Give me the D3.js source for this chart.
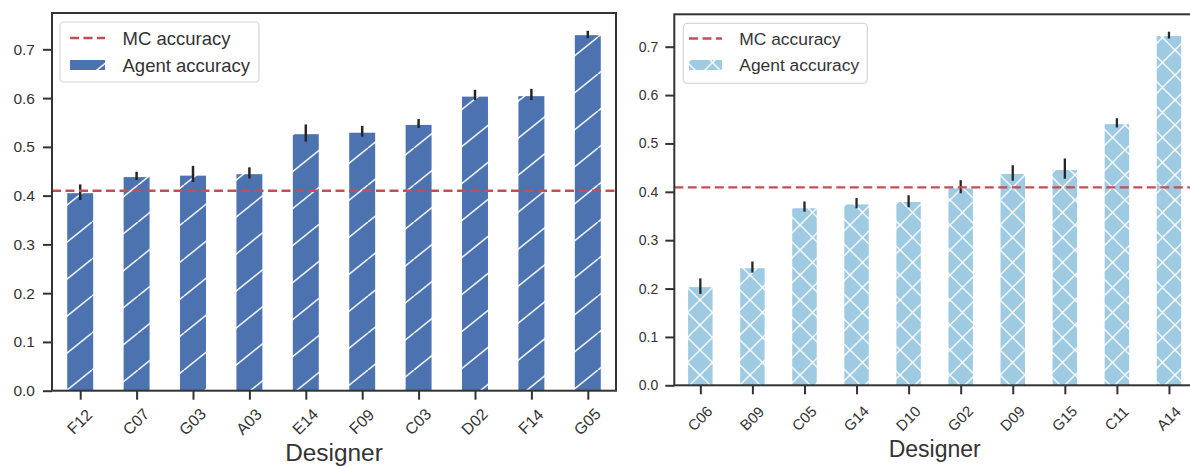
<!DOCTYPE html>
<html><head><meta charset="utf-8">
<script src="https://cdn.jsdelivr.net/npm/d3@7"></script>
<style>body{margin:0;background:#fff}svg{display:block}</style>
</head><body>
<svg id="c" width="1190" height="467"></svg>
<script>
// ---- data ----
const leftCats = ["F12","C07","G03","A03","E14","F09","C03","D02","F14","G05"];
const leftVals = [0.405,0.438,0.441,0.444,0.526,0.529,0.545,0.603,0.604,0.729];
const leftErrLo = [0.391,0.432,0.428,0.435,0.511,0.521,0.539,0.596,0.596,0.723];
const leftErrHi = [0.423,0.449,0.461,0.458,0.546,0.543,0.557,0.617,0.619,0.738];
const leftMC = 0.410;

const rightCats = ["C06","B09","C05","G14","D10","G02","D09","G15","C11","A14"];
const rightVals = [0.203,0.242,0.366,0.374,0.379,0.407,0.437,0.445,0.540,0.722];
const rightErrLo = [0.189,0.233,0.359,0.366,0.368,0.397,0.423,0.427,0.533,0.717];
const rightErrHi = [0.221,0.256,0.380,0.387,0.393,0.424,0.455,0.469,0.552,0.731];
const rightMC = 0.409;

const yTicks = [0,0.1,0.2,0.3,0.4,0.5,0.6,0.7];
const legendLabels = ["MC accuracy","Agent accuracy"];
const xTitle = "Designer";

const svg = d3.select("#c");
const defs = svg.append("defs");
const FONT = "'Liberation Sans', Arial, sans-serif";

// hatch patterns
const p1 = defs.append("pattern").attr("id","hatchL").attr("patternUnits","userSpaceOnUse")
  .attr("width",46).attr("height",37);
p1.append("rect").attr("width",46).attr("height",37).attr("fill","#4C72B0");
[[-46,37,0,0],[0,37,46,0],[46,37,92,0]].forEach(l=>p1.append("line")
  .attr("x1",l[0]).attr("y1",l[1]).attr("x2",l[2]).attr("y2",l[3])
  .attr("stroke","#fff").attr("stroke-width",1.6).attr("stroke-opacity",0.9));

const p2 = defs.append("pattern").attr("id","hatchR").attr("patternUnits","userSpaceOnUse")
  .attr("width",25).attr("height",25);
p2.append("rect").attr("width",25).attr("height",25).attr("fill","#9FCBE2");
[[0,0,25,25],[0,25,25,0],[-25,0,0,25],[25,0,50,25],[-25,25,0,0],[25,25,50,0]].forEach(l=>p2.append("line")
  .attr("x1",l[0]).attr("y1",l[1]).attr("x2",l[2]).attr("y2",l[3])
  .attr("stroke","#fff").attr("stroke-width",1.5).attr("stroke-opacity",0.9));

function panel(cfg){
  const g = svg.append("g");
  const x = d3.scaleLinear().domain([-0.5, cfg.cats.length-0.5]).range([cfg.x0, cfg.x1]);
  const y = d3.scaleLinear().domain([0, cfg.ymax]).range([cfg.y0, cfg.y1]);
  const bw = (x(1)-x(0))*cfg.bwFrac;
  // bars
  g.selectAll("rect.bar").data(cfg.vals).enter().append("rect")
    .attr("x",(d,i)=>x(i)-bw/2).attr("y",d=>y(d))
    .attr("width",bw).attr("height",d=>y(0)-y(d))
    .attr("fill","url(#"+cfg.pat+")");
  // error bars
  g.selectAll("line.err").data(cfg.vals).enter().append("line")
    .attr("x1",(d,i)=>x(i)).attr("x2",(d,i)=>x(i))
    .attr("y1",(d,i)=>y(cfg.lo[i])).attr("y2",(d,i)=>y(cfg.hi[i]))
    .attr("stroke","#262626").attr("stroke-width",cfg.errW);
  // MC line
  g.append("line").attr("x1",cfg.x0).attr("x2",cfg.x1).attr("y1",y(cfg.mc)).attr("y2",y(cfg.mc))
    .attr("stroke","#C44E52").attr("stroke-width",2.3).attr("stroke-dasharray","9,4.5");
  // axes
  const ya = d3.axisLeft(y).tickValues(yTicks).tickFormat(d3.format(".1f")).tickSize(cfg.tick).tickPadding(cfg.pad);
  const yg = g.append("g").attr("transform",`translate(${cfg.x0},0)`).call(ya);
  yg.select(".domain").remove();
  yg.selectAll("line").attr("stroke","#333").attr("stroke-width",2);
  yg.selectAll("text").attr("font-family",FONT).attr("font-size",cfg.fs).attr("fill","#333");
  const xa = d3.axisBottom(x).tickValues(d3.range(cfg.cats.length)).tickFormat(i=>cfg.cats[i]).tickSize(cfg.tick);
  const xg = g.append("g").attr("transform",`translate(0,${cfg.y0})`).call(xa);
  xg.select(".domain").remove();
  xg.selectAll("line").attr("stroke","#333").attr("stroke-width",2);
  xg.selectAll("text").attr("font-family",FONT).attr("font-size",cfg.xfs).attr("fill","#333")
    .attr("text-anchor","middle").attr("dy",null).attr("y",null)
    .attr("transform",`translate(-1,${cfg.xlabY}) rotate(-45)`).attr("dominant-baseline","central");
  // spines
  g.append("rect").attr("x",cfg.x0).attr("y",cfg.y1).attr("width",cfg.x1-cfg.x0).attr("height",cfg.y0-cfg.y1)
    .attr("fill","none").attr("stroke","#333").attr("stroke-width",2);
  // x title
  g.append("text").attr("x",(cfg.x0+Math.min(cfg.x1,1190+5))/2).attr("y",cfg.titleY)
    .attr("text-anchor","middle").attr("font-family",FONT).attr("font-size",cfg.tfs).attr("fill","#333").text(xTitle);
  // legend
  const L = cfg.leg;
  g.append("rect").attr("x",L.x).attr("y",L.y).attr("width",L.w).attr("height",L.h).attr("rx",4)
    .attr("fill","#fff").attr("fill-opacity",0.85).attr("stroke","#d6d6d6").attr("stroke-width",1.2);
  g.append("line").attr("x1",L.hx).attr("x2",L.hx+L.hw).attr("y1",L.y1).attr("y2",L.y1)
    .attr("stroke","#C44E52").attr("stroke-width",2.3).attr("stroke-dasharray","9,4.5");
  g.append("rect").attr("x",L.hx).attr("y",L.y2-5).attr("width",L.hw).attr("height",10)
    .attr("fill","url(#"+cfg.pat+")");
  legendLabels.forEach((t,i)=>g.append("text").attr("x",L.tx).attr("y",i?L.y2:L.y1)
    .attr("dominant-baseline","central").attr("font-family",FONT).attr("font-size",L.fs).attr("fill","#333").text(t));
}

panel({cats:leftCats, vals:leftVals, lo:leftErrLo, hi:leftErrHi, mc:leftMC,
  x0:52, x1:616, y0:390.7, y1:13, ymax:0.7745, bwFrac:0.46, pat:"hatchL", errW:2.5,
  tick:9, pad:8, fs:15.5, xfs:16, xlabY:31, tfs:24.4, titleY:461,
  leg:{x:60,y:22,w:199,h:60,hx:70,hw:35,y1:38,y2:65,tx:122.5,fs:18.5}});

panel({cats:rightCats, vals:rightVals, lo:rightErrLo, hi:rightErrHi, mc:rightMC,
  x0:674.3, x1:1195, y0:385.3, y1:14.3, ymax:0.767, bwFrac:0.47, pat:"hatchR", errW:2.3,
  tick:9, pad:7, fs:14, xfs:15, xlabY:33, tfs:23, titleY:457,
  leg:{x:683.3,y:23.3,w:184,h:60,hx:689,hw:33,y1:38.5,y2:65,tx:739.3,fs:17.4}});
</script>
</body></html>
